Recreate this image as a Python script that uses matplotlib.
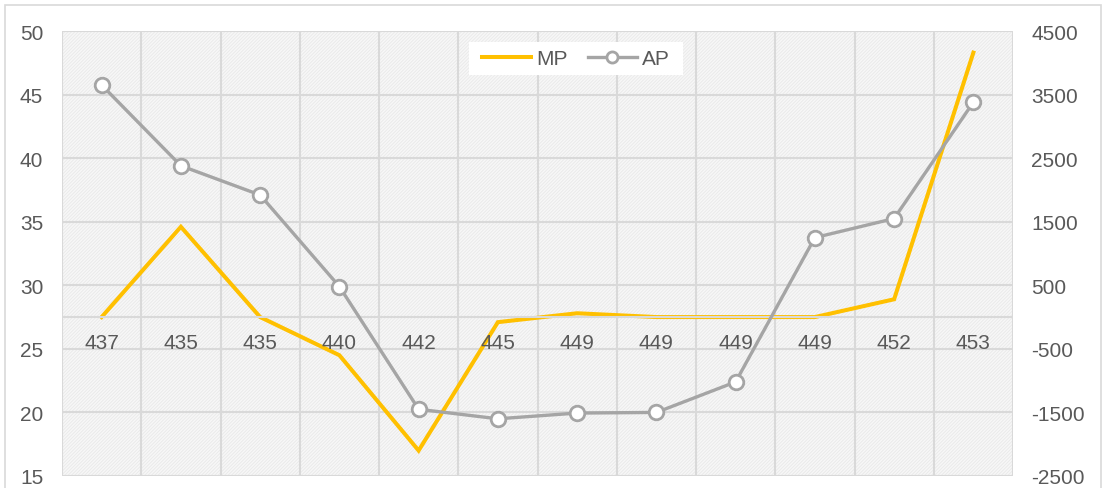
import matplotlib
matplotlib.use("Agg")
import matplotlib.pyplot as plt
from matplotlib.patches import Rectangle
from matplotlib.lines import Line2D

plt.rcParams['font.family'] = ['Liberation Sans', 'DejaVu Sans']
plt.rcParams['hatch.linewidth'] = 0.6

categories = ["437", "435", "435", "440", "442", "445", "449", "449", "449", "449", "452", "453"]
mp_values = [27.5, 34.6, 27.5, 24.5, 17.0, 27.1, 27.8, 27.5, 27.5, 27.5, 28.9, 48.3]
ap_values = [3650, 2380, 1920, 480, -1450, -1600, -1510, -1500, -1020, 1250, 1550, 3380]
left_ticks = [15, 20, 25, 30, 35, 40, 45, 50]
right_ticks = [-2500, -1500, -500, 500, 1500, 2500, 3500, 4500]

MP_COLOR = "#FFC000"
AP_COLOR = "#A5A5A5"
GRID = "#D9D9D9"
TEXT = "#595959"
FS = 15

W, H = 1103, 489
fig = plt.figure(figsize=(W / 100, H / 100), dpi=100)
fig.patches.append(Rectangle((5 / W, -0.01), 1096 / W, 1 - 6 / H + 0.01,
                             transform=fig.transFigure, fill=False,
                             edgecolor="#D9D9D9", linewidth=1.2))

ax = fig.add_axes([62 / W, 1 - 477 / H, (1013 - 62) / W, (477 - 32) / H])
ax2 = ax.twinx()

n = len(categories)
ax.set_xlim(-0.5, n - 0.5)
ax.set_ylim(left_ticks[0], left_ticks[-1])
ax2.set_ylim(right_ticks[0], right_ticks[-1])

# plot area fill with fine diagonal texture
ax.patch.set_facecolor("#F7F7F7")
ax.add_patch(Rectangle((0, 0), 1, 1, transform=ax.transAxes, facecolor="none",
                       edgecolor="#E9E9E9", hatch="//////////", linewidth=0, zorder=0))

# grid
for y in left_ticks:
    ax.axhline(y, color=GRID, linewidth=1.5, zorder=1)
for k in range(n + 1):
    ax.axvline(k - 0.5, color=GRID, linewidth=1.5, zorder=1)
ax2.axhline(0, color=GRID, linewidth=1.5, zorder=1)

for a in (ax, ax2):
    for s in a.spines.values():
        s.set_visible(False)
    a.tick_params(length=0)

ax.set_xticks([])
ax.set_yticks(left_ticks)
ax.set_yticklabels([str(v) for v in left_ticks], fontsize=FS, color=TEXT)
ax.tick_params(axis='y', pad=13.5)
ax2.set_yticks(right_ticks)
ax2.set_yticklabels([str(v) for v in right_ticks], fontsize=FS, color=TEXT)
ax2.tick_params(axis='y', pad=13)

x = list(range(n))
ax.plot(x, mp_values, color=MP_COLOR, linewidth=2.9, zorder=3, solid_joinstyle='miter')
ax2.plot(x, ap_values, color=AP_COLOR, linewidth=2.4, zorder=3,
         marker='o', markersize=10.5, markerfacecolor='white',
         markeredgecolor=AP_COLOR, markeredgewidth=2.0)

# category labels sit under the zero line of the secondary axis
for i, lab in enumerate(categories):
    ax2.annotate(lab, (i, 0), xytext=(0, -18), textcoords='offset points',
                 ha='center', va='center', fontsize=FS, color=TEXT, zorder=2)

# legend box
fig.patches.append(Rectangle((469 / W, 1 - 76 / H), (683 - 469) / W, 33 / H,
                             transform=fig.transFigure, facecolor='white',
                             edgecolor='none', zorder=4))
handles = [Line2D([], [], color=MP_COLOR, linewidth=2.9),
           Line2D([], [], color=AP_COLOR, linewidth=2.4, marker='o', markersize=8,
                  markerfacecolor='white', markeredgecolor=AP_COLOR, markeredgewidth=2.0)]
leg = fig.legend(handles, ["MP", "AP"], loc='center', bbox_to_anchor=(576 / W, 1 - 59.5 / H),
                 ncol=2, frameon=False, fontsize=FS, handlelength=2.35, handletextpad=0.25,
                 columnspacing=0.95, borderpad=0.2)
leg.set_zorder(5)
for t in leg.get_texts():
    t.set_color(TEXT)

fig.savefig("out.png", dpi=100)
